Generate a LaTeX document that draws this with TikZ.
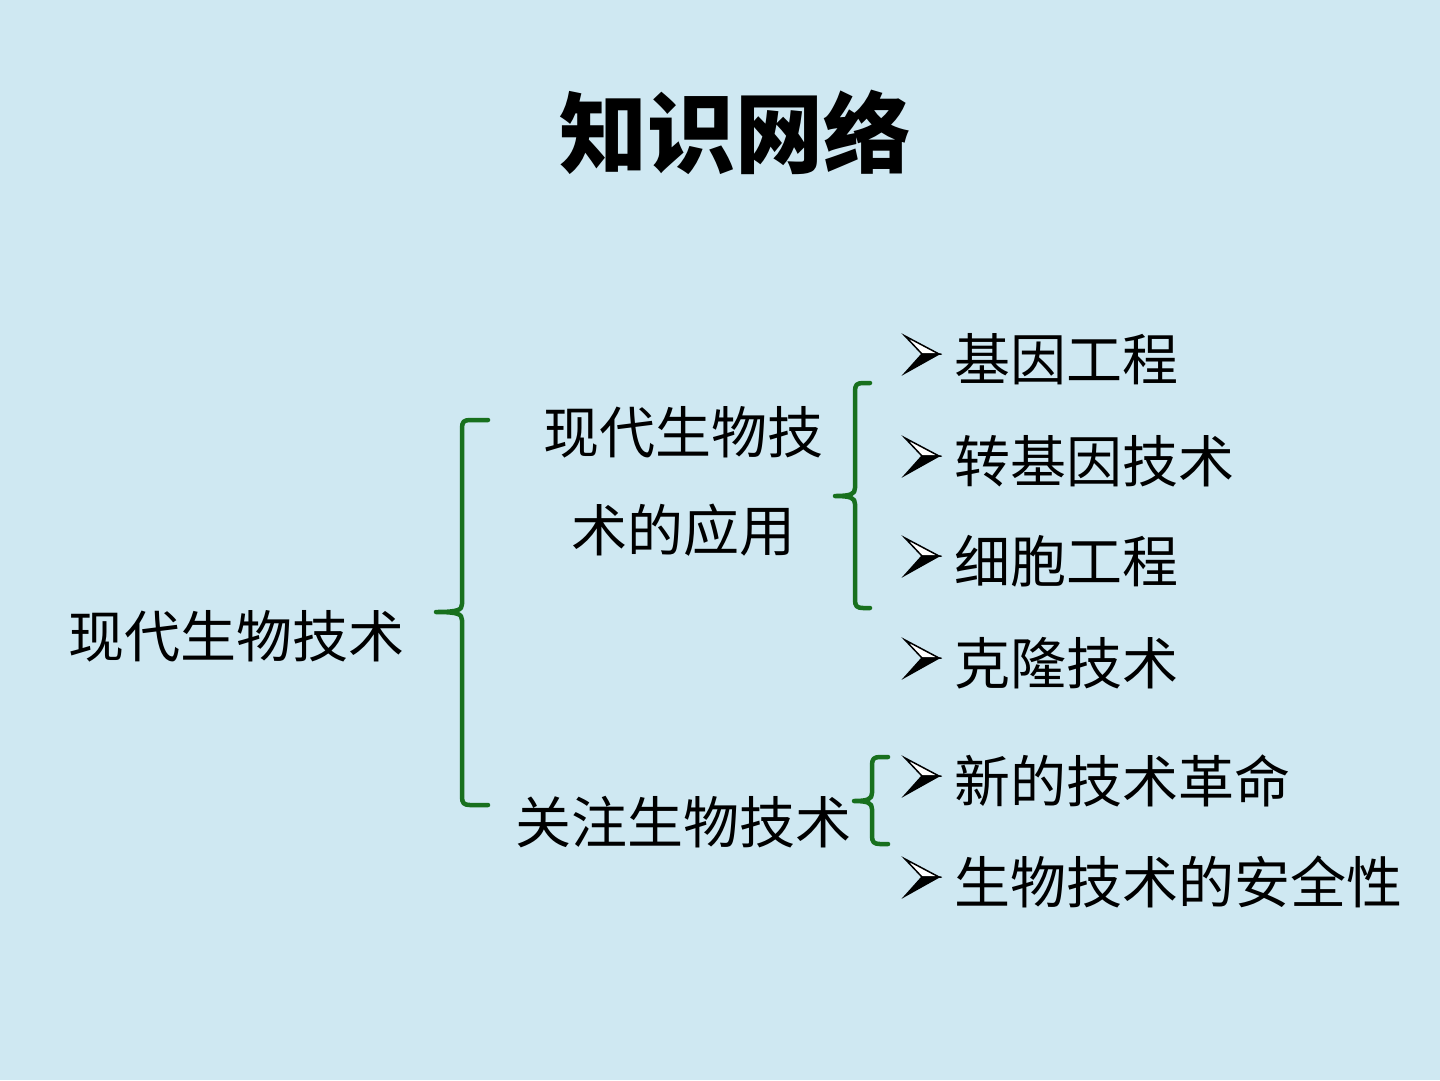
\documentclass[tikz,border=0pt]{standalone}
\usepackage{fontspec}
\usepackage{tikz}
\usetikzlibrary{calc}
\newfontfamily\cjk{Noto Sans CJK SC}
\definecolor{slidebg}{RGB}{207,232,242}
\definecolor{bracegreen}{RGB}{24,112,30}
\tikzset{
  every node/.append style={inner sep=0pt, align=center},
  txt/.style={font=\cjk\fontsize{56}{98}\selectfont, text=black},
  item/.style={txt, anchor=west},
  bracestyle/.style={bracegreen, line width=4.5pt, line cap=round, line join=round},
  bullet/.pic={
    % upper half outlined, lower half filled
    \filldraw[black, fill=white, line width=1.5pt, line join=miter]
      (-34,-18) -- (0,0) -- (-17,0) -- cycle;
    \filldraw[black, line width=1.5pt, line join=miter]
      (-17,0) -- (0,0) -- (-34,19) -- cycle;
  }
}
% brace: #1 = x of the stem, #2 = top, #3 = bottom, #4 = tip y, #5 = tip x, #6 = end x
\newcommand{\slidebrace}[6]{%
  \draw[bracestyle]
    (#6,#2) -- (#1+8,#2) .. controls (#1+2,#2) and (#1,#2+2) .. (#1,#2+8)
    -- (#1,#4-8) .. controls (#1,#4-2) and (#1-4,#4) .. (#5,#4)
    .. controls (#1-4,#4) and (#1,#4+2) .. (#1,#4+8)
    -- (#1,#3-8) .. controls (#1,#3-2) and (#1+2,#3) .. (#1+8,#3) -- (#6,#3);}

\begin{document}
\begin{tikzpicture}[x=1pt, y=-1pt]

  % slide background
  \fill[slidebg] (0,0) rectangle (1440,1080);
  \useasboundingbox (0,0) rectangle (1440,1080);

  % title
  \node[font=\cjk\bfseries\fontsize{88}{90}\selectfont] (title) at (735,132) {知识网络};

  % left column
  \node[txt, anchor=west] (root) at (68,636) {现代生物技术};

  % middle column
  \node[txt] (apply) at (683,481) {现代生物技\\术的应用};
  \node[txt] (focus) at (683,822) {关注生物技术};

  % right column
  \node[item] (gene)   at (954,359) {基因工程};
  \node[item] (trans)  at (954,461) {转基因技术};
  \node[item] (cell)   at (954,561) {细胞工程};
  \node[item] (clone)  at (954,663) {克隆技术};
  \node[item] (revol)  at (954,781) {新的技术革命};
  \node[item] (safety) at (954,882) {生物技术的安全性};

  % bullets in front of the items
  \foreach \n in {gene,trans,cell,clone,revol,safety}
    \pic at ($(\n.west)+(-15,-5)$) {bullet};

  % braces
  \slidebrace{462}{420}{805}{612}{436}{488}
  \slidebrace{855}{383}{608}{496}{835}{870}
  \slidebrace{872}{757}{844}{801}{854}{888}

\end{tikzpicture}
\end{document}
